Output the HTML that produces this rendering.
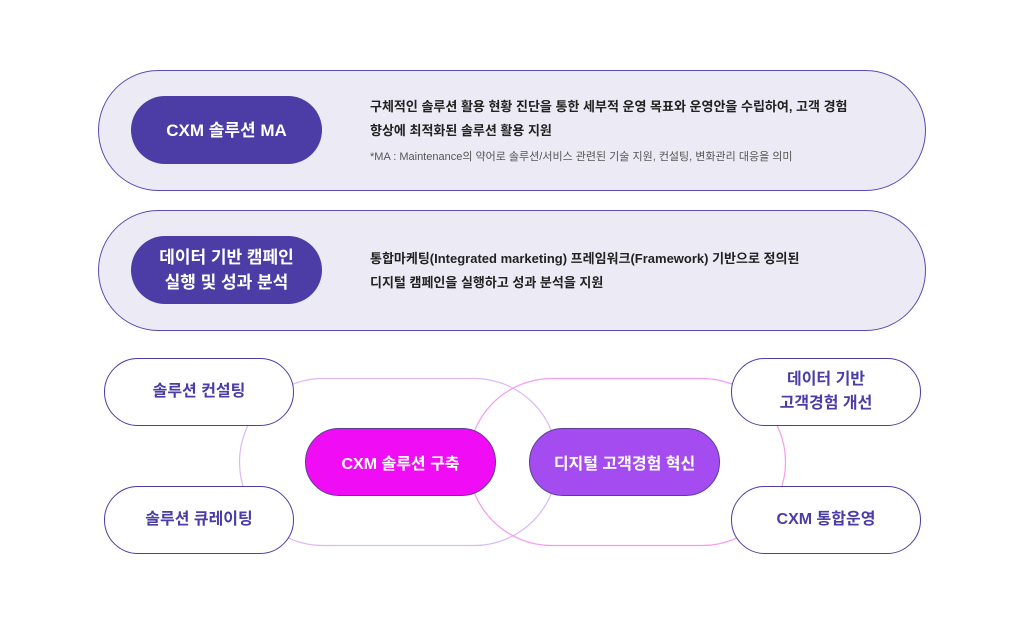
<!DOCTYPE html>
<html><head><meta charset="utf-8"><style>
body{margin:0;width:1024px;height:618px;background:#fff;position:relative;overflow:hidden;font-family:"Liberation Sans","Noto Sans CJK KR",sans-serif}
.a{position:absolute;box-sizing:border-box;display:flex;align-items:center;justify-content:center;text-align:center;font-weight:bold}
.big{position:absolute;box-sizing:border-box;left:98px;width:828px;height:121px;border:1.3px solid #5a4cb4;border-radius:61px;background:#ecebf5}
.in{background:#4b3ca6;color:#fff;border-radius:34px;left:131px;width:191px;height:68px;font-size:17px;line-height:25px}
.t{position:absolute;left:370px;font-size:13px;color:#222;line-height:24px;font-weight:bold}
.w{background:#fff;border:1.3px solid #4b3ca6;color:#4b3ca6;border-radius:34px;width:190px;height:68px;font-size:16px;line-height:24px}
</style></head><body>
<div class="big" style="top:70px"></div>
<div class="big" style="top:210px"></div>
<div class="a in" style="top:96px">CXM 솔루션 MA</div>
<div class="a in" style="top:236px">데이터 기반 캠페인<br>실행 및 성과 분석</div>
<div class="t" style="top:95px">구체적인 솔루션 활용 현황 진단을 통한 세부적 운영 목표와 운영안을 수립하여, 고객 경험<br>향상에 최적화된 솔루션 활용 지원</div>
<div class="t" style="top:145px;font-size:11px;font-weight:normal;color:#555">*MA : Maintenance의 약어로 솔루션/서비스 관련된 기술 지원, 컨설팅, 변화관리 대응을 의미</div>
<div class="t" style="top:247px">통합마케팅(Integrated marketing) 프레임워크(Framework) 기반으로 정의된<br>디지털 캠페인을 실행하고 성과 분석을 지원</div>
<svg style="position:absolute;left:0;top:0" width="1024" height="618">
<rect x="239.5" y="378.5" width="318" height="167" rx="83.5" fill="none" stroke="#dcb8f6" stroke-width="1.2"/>
<rect x="468.5" y="378.5" width="317" height="167" rx="83.5" fill="none" stroke="#f59bf0" stroke-width="1.2"/>
</svg>
<div class="a w" style="left:104px;top:358px">솔루션 컨설팅</div>
<div class="a w" style="left:104px;top:486px">솔루션 큐레이팅</div>
<div class="a w" style="left:731px;top:358px">데이터 기반<br>고객경험 개선</div>
<div class="a w" style="left:731px;top:486px">CXM 통합운영</div>
<div class="a" style="left:305px;top:428px;width:191px;height:68px;border-radius:34px;background:#f10cf6;border:1px solid #5a3a9a;color:#fff;font-size:16px">CXM 솔루션 구축</div>
<div class="a" style="left:529px;top:428px;width:191px;height:68px;border-radius:34px;background:#a44cf0;border:1px solid #5a3a9a;color:#fff;font-size:16px">디지털 고객경험 혁신</div>
</body></html>
